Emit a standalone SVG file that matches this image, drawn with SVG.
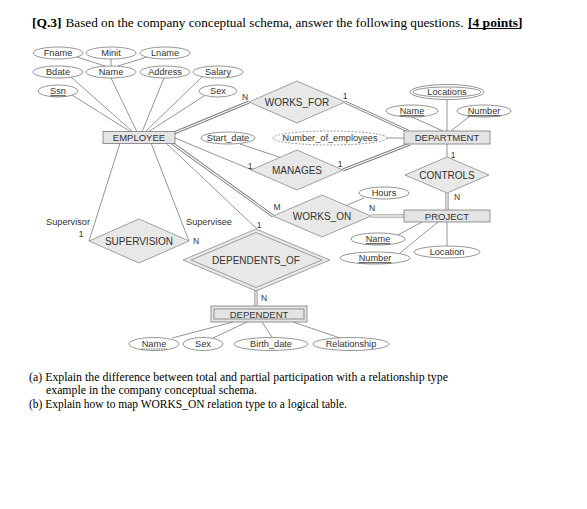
<svg xmlns="http://www.w3.org/2000/svg" width="587" height="509" viewBox="0 0 587 509">
<style>
.t{font-family:"Liberation Sans",Arial,sans-serif;fill:#333;text-anchor:middle}
.a{font-size:9.2px}
.e{font-size:9.5px}
.r{font-size:10px}
.s{font-size:8.5px}
.u{text-decoration:underline}
.att{fill:#fff;stroke:#7a7a7a;stroke-width:0.8}
.ent{fill:#e4e4e4;stroke:#7a7a7a;stroke-width:0.8}
.rel{fill:#e8e8e8;stroke:#8a8a8a;stroke-width:0.8}
.ln{stroke:#7a7a7a;stroke-width:0.8;fill:none}
.dbo{stroke:#7a7a7a;stroke-width:3;fill:none}
.dbi{stroke:#fff;stroke-width:1.3;fill:none}
.q{font-family:"Liberation Serif","Times New Roman",serif;fill:#000}
</style>
<defs>
<path id="d1" d="M174,133 L249,102"/>
<path id="d2" d="M345,102 L408,131"/>
<path id="d3" d="M343,170 L410,144"/>
<path id="d4" d="M172,143 L273,216"/>
<path id="d5" d="M371,216 L404,216"/>
<path id="d6" d="M447,193 L447,210"/>
<path id="d7" d="M256,290 L256,306"/>
</defs>
<rect width="587" height="509" fill="#fff"/>

<g id="title" class="q" font-size="13.5">
<text x="32" y="26.5" font-weight="bold">[Q.3]</text>
<text x="65.5" y="26.5" textLength="398" lengthAdjust="spacingAndGlyphs">Based on the company conceptual schema, answer the following questions.</text>
<text x="468" y="26.5" font-weight="bold">[4 points]</text>
<line x1="468" y1="28.5" x2="521" y2="28.5" stroke="#000" stroke-width="1"/>
</g>

<g id="connectors">
<line class="ln" x1="77" y1="57" x2="105" y2="66"/>
<line class="ln" x1="111" y1="59" x2="111" y2="66"/>
<line class="ln" x1="147" y1="57" x2="118" y2="66"/>
<line class="ln" x1="71" y1="77" x2="133" y2="132"/>
<line class="ln" x1="111" y1="78" x2="137" y2="132"/>
<line class="ln" x1="164" y1="78" x2="142" y2="132"/>
<line class="ln" x1="202" y1="77" x2="145" y2="132"/>
<line class="ln" x1="72" y1="95" x2="131" y2="132"/>
<line class="ln" x1="204" y1="96" x2="148" y2="132"/>
<use href="#d1" class="dbo"/><use href="#d1" class="dbi"/>
<use href="#d2" class="dbo"/><use href="#d2" class="dbi"/>
<line class="ln" x1="175" y1="138" x2="252" y2="170"/>
<use href="#d3" class="dbo"/><use href="#d3" class="dbi"/>
<line class="ln" x1="240" y1="144" x2="282" y2="158"/>
<line class="ln" x1="387" y1="138" x2="404" y2="138"/>
<use href="#d4" class="dbo"/><use href="#d4" class="dbi"/>
<use href="#d5" class="dbo"/><use href="#d5" class="dbi"/>
<line class="ln" x1="364" y1="198" x2="345" y2="206"/>
<line class="ln" x1="166" y1="143" x2="257" y2="229"/>
<line class="ln" x1="120" y1="143" x2="89" y2="241"/>
<line class="ln" x1="151" y1="143" x2="189" y2="241"/>
<line class="ln" x1="447" y1="99" x2="447" y2="131"/>
<line class="ln" x1="412" y1="117" x2="443" y2="131"/>
<line class="ln" x1="470" y1="116" x2="451" y2="131"/>
<line class="ln" x1="447" y1="144" x2="447" y2="157"/>
<use href="#d6" class="dbo"/><use href="#d6" class="dbi"/>
<line class="ln" x1="398" y1="235" x2="422" y2="222"/>
<line class="ln" x1="400" y1="253" x2="438" y2="222"/>
<line class="ln" x1="447" y1="222" x2="447" y2="246"/>
<use href="#d7" class="dbo"/><use href="#d7" class="dbi"/>
<line class="ln" x1="233" y1="322" x2="172" y2="338"/>
<line class="ln" x1="247" y1="322" x2="213" y2="338"/>
<line class="ln" x1="262" y1="322" x2="272" y2="337"/>
<line class="ln" x1="293" y1="322" x2="340" y2="338"/>
</g>

<g id="labels" class="t s">
<text x="245" y="100">N</text>
<text x="345" y="99">1</text>
<text x="250" y="169">1</text>
<text x="340" y="167">1</text>
<text x="277" y="210">M</text>
<text x="372" y="211">N</text>
<text x="453" y="158">1</text>
<text x="457" y="200">N</text>
<text x="81" y="237">1</text>
<text x="196" y="244">N</text>
<text x="259" y="228">1</text>
<text x="264" y="301">N</text>
<text x="68" y="225" class="a">Supervisor</text>
<text x="209" y="225" class="a">Supervisee</text>
</g>

<g id="Fname"><ellipse class="att" cx="58" cy="53" rx="25" ry="6"/><text class="t a" x="58" y="56.3">Fname</text></g>
<g id="Minit"><ellipse class="att" cx="111" cy="53" rx="25" ry="6"/><text class="t a" x="111" y="56.3">Minit</text></g>
<g id="Lname"><ellipse class="att" cx="165" cy="53" rx="25" ry="6"/><text class="t a" x="165" y="56.3">Lname</text></g>
<g id="Bdate"><ellipse class="att" cx="58" cy="72" rx="25" ry="6"/><text class="t a" x="58" y="75.3">Bdate</text></g>
<g id="Name"><ellipse class="att" cx="111" cy="72" rx="25" ry="6"/><text class="t a" x="111" y="75.3">Name</text></g>
<g id="Address"><ellipse class="att" cx="165" cy="72" rx="25" ry="6"/><text class="t a" x="165" y="75.3">Address</text></g>
<g id="Salary"><ellipse class="att" cx="218" cy="72" rx="25" ry="6"/><text class="t a" x="218" y="75.3">Salary</text></g>
<g id="Ssn"><ellipse class="att" cx="58" cy="91" rx="20" ry="6"/><text class="t a u" x="58" y="94.3">Ssn</text></g>
<g id="Sex"><ellipse class="att" cx="218" cy="91" rx="19" ry="6"/><text class="t a" x="218" y="94.3">Sex</text></g>

<g id="EMPLOYEE"><rect class="ent" x="103" y="131.5" width="72" height="12"/><text class="t e" x="139" y="141">EMPLOYEE</text></g>

<g id="WORKS_FOR"><polygon class="rel" points="249,102 297,81 345,102 297,123"/><text class="t r" x="297" y="105.5">WORKS_FOR</text></g>
<g id="Start_date"><ellipse class="att" cx="228" cy="138" rx="27" ry="6"/><text class="t a" x="228" y="141.3">Start_date</text></g>
<g id="Number_of_employees"><ellipse class="att" cx="330" cy="138" rx="57" ry="7" stroke-dasharray="2,1.5"/><text class="t a" x="330" y="141.3">Number_of_employees</text></g>
<g id="MANAGES"><polygon class="rel" points="251,170 297,150 343,170 297,190"/><text class="t r" x="297" y="173.5">MANAGES</text></g>
<g id="WORKS_ON"><polygon class="rel" points="273,216 322,195 371,216 322,237"/><text class="t r" x="322" y="219.5">WORKS_ON</text></g>
<g id="Hours"><ellipse class="att" cx="384" cy="193" rx="25" ry="6"/><text class="t a" x="384" y="196.3">Hours</text></g>

<g id="Locations"><ellipse class="att" cx="447" cy="92" rx="37" ry="7.5"/><ellipse class="att" cx="447" cy="92" rx="34" ry="5"/><text class="t a" x="447" y="95.3">Locations</text></g>
<g id="DeptName"><ellipse class="att" cx="412" cy="111" rx="26" ry="6"/><text class="t a u" x="412" y="114.3">Name</text></g>
<g id="DeptNumber"><ellipse class="att" cx="484" cy="111" rx="27" ry="6"/><text class="t a u" x="484" y="114.3">Number</text></g>
<g id="DEPARTMENT"><rect class="ent" x="404" y="131" width="86" height="13"/><text class="t e" x="447" y="141">DEPARTMENT</text></g>
<g id="CONTROLS"><polygon class="rel" points="405,175 447,157 489,175 447,193"/><text class="t r" x="447" y="178.5">CONTROLS</text></g>
<g id="PROJECT"><rect class="ent" x="404" y="210" width="86" height="12"/><text class="t e" x="447" y="219.5">PROJECT</text></g>
<g id="ProjName"><ellipse class="att" cx="378" cy="239" rx="27" ry="6"/><text class="t a u" x="378" y="242.3">Name</text></g>
<g id="ProjNumber"><ellipse class="att" cx="375" cy="258" rx="35" ry="6"/><text class="t a u" x="375" y="261.3">Number</text></g>
<g id="Location"><ellipse class="att" cx="447" cy="252" rx="33" ry="6"/><text class="t a" x="447" y="255.3">Location</text></g>

<g id="SUPERVISION"><polygon class="rel" points="89,241 139,219 189,241 139,263"/><text class="t r" x="139" y="244.5">SUPERVISION</text></g>
<g id="DEPENDENTS_OF"><polygon class="rel" points="183,260 256,229 330,260 256,291"/><polygon class="rel" points="191,260 256,232.5 322,260 256,287.5"/><text class="t r" x="256" y="263.5">DEPENDENTS_OF</text></g>
<g id="DEPENDENT"><rect class="ent" x="211" y="306" width="96" height="16"/><rect class="ent" x="214" y="309" width="90" height="10"/><text class="t e" x="259" y="317.5">DEPENDENT</text></g>
<g id="DepName"><ellipse class="att" cx="154" cy="344" rx="25" ry="6.5"/><text class="t a" x="154" y="347.3">Name</text><line x1="141" y1="349" x2="167" y2="349" stroke="#333" stroke-width="0.7" stroke-dasharray="1.5,1"/></g>
<g id="DepSex"><ellipse class="att" cx="203" cy="344" rx="20" ry="6.5"/><text class="t a" x="203" y="347.3">Sex</text></g>
<g id="Birth_date"><ellipse class="att" cx="271" cy="344" rx="37" ry="6.5"/><text class="t a" x="271" y="347.3">Birth_date</text></g>
<g id="Relationship"><ellipse class="att" cx="351" cy="344" rx="38" ry="6.5"/><text class="t a" x="351" y="347.3">Relationship</text></g>

<g id="questions" class="q" font-size="11.5">
<text x="29" y="381" textLength="419" lengthAdjust="spacingAndGlyphs">(a) Explain the difference between total and partial participation with a relationship type</text>
<text x="46" y="394" textLength="211" lengthAdjust="spacingAndGlyphs">example in the company conceptual schema.</text>
<text x="29" y="408" textLength="318" lengthAdjust="spacingAndGlyphs">(b) Explain how to map WORKS_ON relation type to a logical table.</text>
</g>
</svg>
